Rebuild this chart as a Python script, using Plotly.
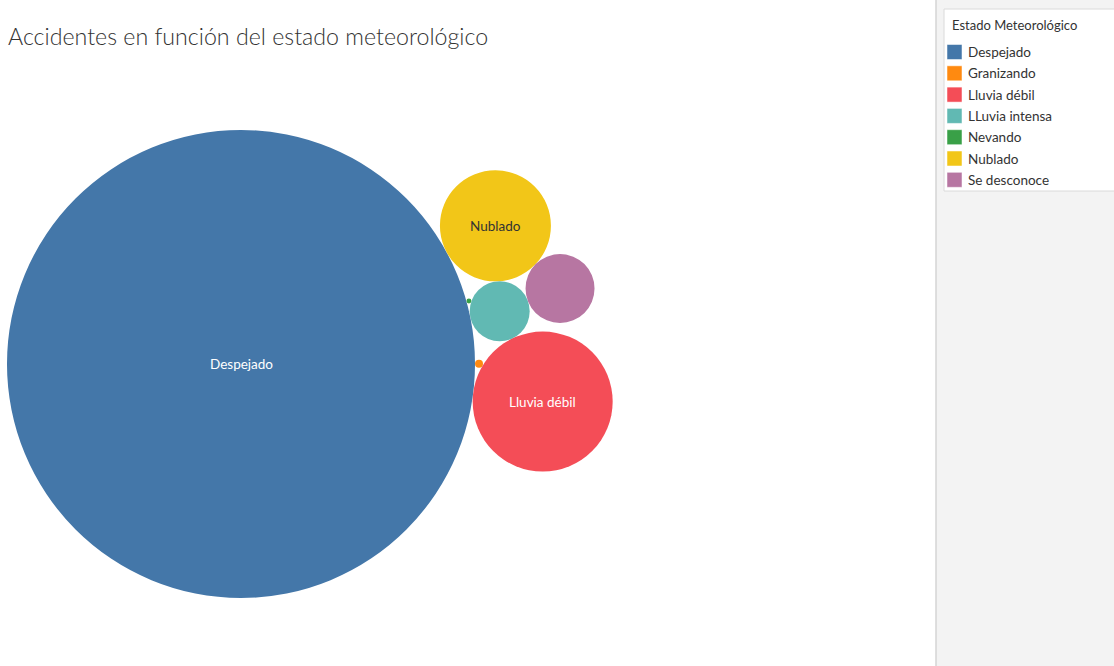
import math
import plotly.graph_objects as go

# Accidentes por estado meteorológico
estados = ["Despejado", "Granizando", "Lluvia débil", "LLuvia intensa",
           "Nevando", "Nublado", "Se desconoce"]
accidentes = [54760, 16, 4900, 900, 6, 3080, 1190]
colores = ["#4477A9", "#FF8A10", "#F44D57", "#61B9B3",
           "#39A047", "#F2C618", "#B776A2"]
titulo_leyenda = "Estado Meteorológico"

FUENTE = "Lato"
W, H = 1114, 666

# radio de cada burbuja proporcional a la raíz del valor (área ~ valor)
PX_POR_UNIDAD = 1.0
radio = {e: math.sqrt(v) * PX_POR_UNIDAD for e, v in zip(estados, accidentes)}


def tangente(pa, ra, pb, rb, r, lado):
    """Centro de un círculo de radio r tangente a los círculos a y b."""
    dx, dy = pb[0] - pa[0], pb[1] - pa[1]
    d = math.hypot(dx, dy)
    ux, uy = dx / d, dy / d
    da, db = ra + r, rb + r
    x = (d * d + da * da - db * db) / (2 * d)
    h = math.sqrt(max(da * da - x * x, 0.0))
    c1 = (pa[0] + x * ux - h * uy, pa[1] + x * uy + h * ux)
    c2 = (pa[0] + x * ux + h * uy, pa[1] + x * uy - h * ux)
    if lado == "abajo":
        return max((c1, c2), key=lambda c: c[1])
    if lado == "arriba":
        return min((c1, c2), key=lambda c: c[1])
    if lado == "derecha":
        return max((c1, c2), key=lambda c: c[0])
    return min((c1, c2), key=lambda c: c[0])


# empaquetado de burbujas (coordenadas con y hacia abajo)
pos = {"Despejado": (0.0, 0.0)}
ang = math.radians(28.5)
dist = radio["Despejado"] + radio["Nublado"]
pos["Nublado"] = (dist * math.cos(ang), -dist * math.sin(ang))
pasos = [
    ("LLuvia intensa", "Despejado", "Nublado", "abajo"),
    ("Lluvia débil", "Despejado", "LLuvia intensa", "abajo"),
    ("Se desconoce", "Nublado", "LLuvia intensa", "derecha"),
    ("Granizando", "Despejado", "Lluvia débil", "arriba"),
    ("Nevando", "Despejado", "LLuvia intensa", "arriba"),
]
for nuevo, a, b, lado in pasos:
    pos[nuevo] = tangente(pos[a], radio[a], pos[b], radio[b], radio[nuevo], lado)

# origen del empaquetado dentro de la vista
ORIGEN_X, ORIGEN_Y = 241, 364

fig = go.Figure()
shapes = []
annotations = []


def px(x):
    return x / W


def py(y):
    return 1 - y / H


# panel lateral gris y caja blanca de la leyenda
shapes.append(dict(type="rect", xref="paper", yref="paper",
                   x0=px(936), x1=1, y0=0, y1=1,
                   fillcolor="#F3F3F3", line=dict(width=0), layer="below"))
shapes.append(dict(type="line", xref="paper", yref="paper",
                   x0=px(936), x1=px(936), y0=0, y1=1,
                   line=dict(color="#D4D4D4", width=1.5), layer="below"))
shapes.append(dict(type="rect", xref="paper", yref="paper",
                   x0=px(944), x1=1.002, y0=py(191), y1=py(9),
                   fillcolor="white", line=dict(color="#DADADA", width=1),
                   layer="below"))

# leyenda: título y una fila por estado
annotations.append(dict(xref="paper", yref="paper", x=px(950), y=py(25),
                        xanchor="left", yanchor="middle", showarrow=False,
                        text=titulo_leyenda,
                        font=dict(family=FUENTE, size=13, color="#333333")))
FILA0, PASO = 52, 21.3
for i, (e, c) in enumerate(zip(estados, colores)):
    yc = FILA0 + i * PASO
    shapes.append(dict(type="rect", xref="paper", yref="paper",
                       x0=px(947), x1=px(962), y0=py(yc + 7.5), y1=py(yc - 7.5),
                       fillcolor=c, line=dict(color="white", width=0.5),
                       layer="above"))
    annotations.append(dict(xref="paper", yref="paper", x=px(966), y=py(yc),
                            xanchor="left", yanchor="middle", showarrow=False,
                            text=e,
                            font=dict(family=FUENTE, size=13.5, color="#333333")))

# burbujas
for e, c in zip(estados, colores):
    cx, cy = pos[e]
    r = radio[e]
    shapes.append(dict(type="circle", xref="x", yref="y",
                       x0=cx - r, x1=cx + r, y0=cy - r, y1=cy + r,
                       fillcolor=c, line=dict(width=0), layer="below"))

# etiquetas dentro de las burbujas que tienen espacio
for e, c in zip(estados, colores):
    if len(e) * 7 < 2 * radio[e] * 0.9:
        annotations.append(dict(
            xref="x", yref="y", x=pos[e][0], y=pos[e][1],
            xanchor="center", yanchor="middle", showarrow=False, text=e,
            font=dict(family=FUENTE, size=13.5,
                      color="#333333" if e == "Nublado" else "white"),
        ))

# información al pasar el cursor
fig.add_trace(go.Scatter(
    x=[pos[e][0] for e in estados], y=[pos[e][1] for e in estados],
    mode="markers", showlegend=False, marker=dict(size=1, opacity=0),
    customdata=accidentes, text=estados,
    hovertemplate="%{text}<br>Accidentes: %{customdata}<extra></extra>",
))

fig.update_layout(
    width=W, height=H,
    margin=dict(l=0, r=0, t=0, b=0),
    paper_bgcolor="white", plot_bgcolor="rgba(0,0,0,0)",
    shapes=shapes,
    annotations=annotations,
    showlegend=False,
    xaxis=dict(range=[-ORIGEN_X, W - ORIGEN_X], visible=False, fixedrange=True),
    yaxis=dict(range=[H - ORIGEN_Y, -ORIGEN_Y], visible=False, fixedrange=True),
    title=dict(text="Accidentes en función del estado meteorológico",
               x=px(8), xanchor="left", y=py(37), yanchor="middle",
               font=dict(family=FUENTE, size=23.2, color="#333333", weight=300)),
    font=dict(family=FUENTE),
)

fig.write_html("out.html")
